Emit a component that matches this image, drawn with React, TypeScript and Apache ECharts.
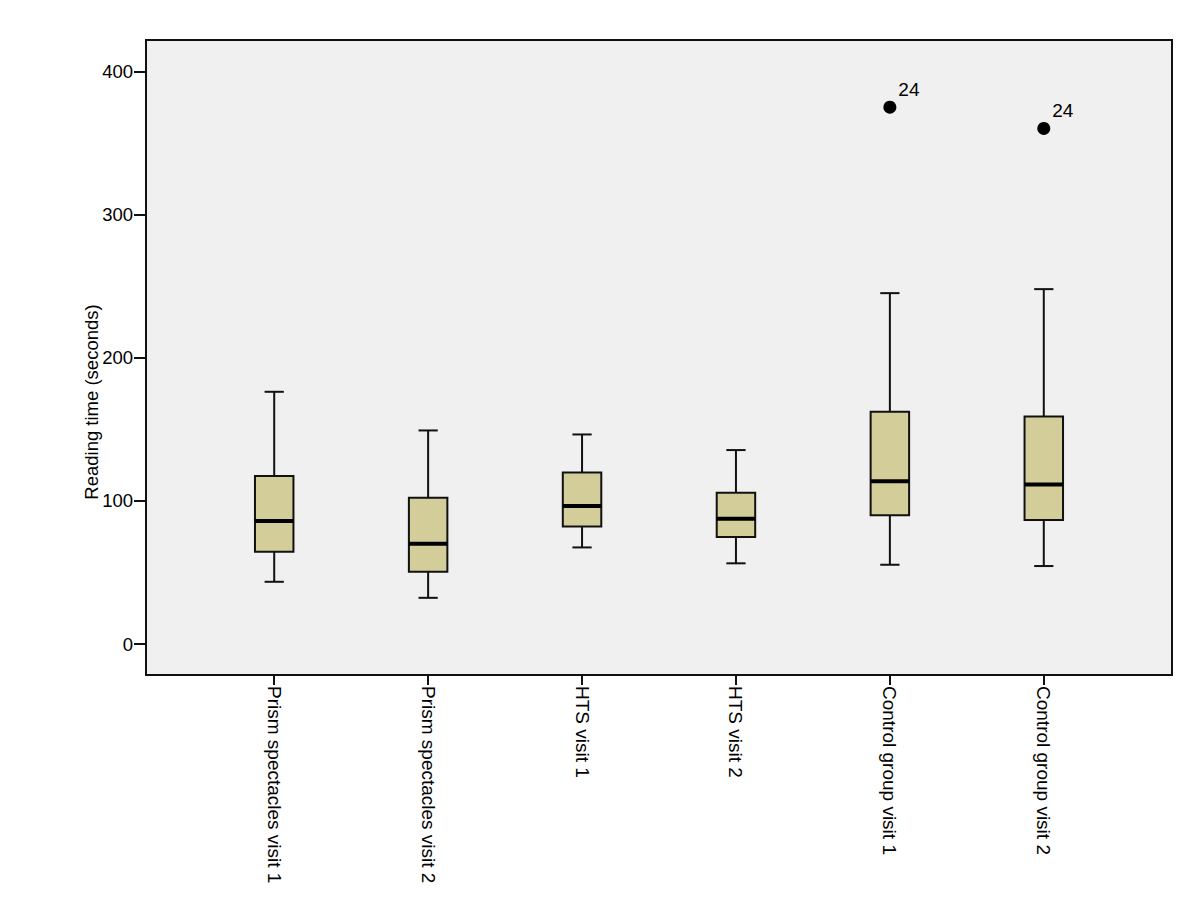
import React, { useEffect, useRef } from "react";
import * as echarts from "echarts";

const categories = [
  "Prism spectacles visit 1",
  "Prism spectacles visit 2",
  "HTS visit 1",
  "HTS visit 2",
  "Control group visit 1",
  "Control group visit 2",
];
// [lower whisker, Q1, median, Q3, upper whisker]
const boxStats = [
  [43.5, 64.5, 85.9, 117.3, 176.2],
  [32.3, 50.5, 70.0, 102.2, 149.2],
  [67.5, 82.2, 96.4, 119.9, 146.4],
  [56.4, 74.7, 87.5, 105.7, 135.5],
  [55.4, 89.9, 113.8, 162.2, 245.1],
  [54.5, 86.6, 111.5, 158.9, 247.9],
];
// [category index, value, case label]
const outliers = [
  [4, 375.0, "24"],
  [5, 360.1, "24"],
];
const yTicks = [0, 100, 200, 300, 400];
const xTicks = [0, 1, 2, 3, 4, 5];

export default function App() {
  const ref = useRef<HTMLDivElement>(null);
  useEffect(() => {
    if (!ref.current) return;
    const chart = echarts.init(ref.current, null, { renderer: "svg" });
    const font = "Liberation Sans, Arial, sans-serif";
    const stroke = "#111";
    const boxData = boxStats.map((s, i) => [i, ...s]);
    chart.setOption({
      animation: false,
      backgroundColor: "#ffffff",
      grid: {
        left: 146,
        top: 40,
        width: 1026,
        height: 635,
        show: true,
        backgroundColor: "#f0f0f0",
        borderColor: "#111",
        borderWidth: 2,
      },
      xAxis: {
        type: "value",
        min: -0.833,
        max: 5.833,
        splitLine: { show: false },
        axisLine: { show: true, onZero: false, lineStyle: { color: "#111", width: 2 } },
        axisTick: {
          show: true,
          customValues: xTicks,
          length: 10,
          lineStyle: { color: "#111", width: 2 },
        },
        axisLabel: {
          customValues: xTicks,
          formatter: (v: number) => categories[Math.round(v)] ?? "",
          rotate: -90,
          margin: 11,
          fontSize: 19,
          color: "#000",
          fontFamily: font,
        },
      },
      yAxis: {
        type: "value",
        min: -21.6,
        max: 421.9,
        splitLine: { show: false },
        axisLine: { show: true, onZero: false, lineStyle: { color: "#111", width: 2 } },
        axisTick: {
          show: true,
          customValues: yTicks,
          length: 12,
          lineStyle: { color: "#111", width: 2 },
        },
        axisLabel: {
          customValues: yTicks,
          margin: 13,
          fontSize: 18.5,
          color: "#000",
          fontFamily: font,
        },
      },
      graphic: [
        {
          type: "text",
          x: 91,
          y: 402,
          rotation: Math.PI / 2,
          style: {
            text: "Reading time (seconds)",
            fontSize: 18.5,
            fontFamily: font,
            fill: "#000",
            textAlign: "center",
            textVerticalAlign: "middle",
          },
        },
      ],
      series: [
        {
          type: "custom",
          data: boxData,
          encode: { x: 0, y: [1, 2, 3, 4, 5] },
          renderItem: (params: any, api: any) => {
            const x = api.value(0);
            const lo = api.coord([x, api.value(1)]);
            const q1 = api.coord([x, api.value(2)]);
            const med = api.coord([x, api.value(3)]);
            const q3 = api.coord([x, api.value(4)]);
            const hi = api.coord([x, api.value(5)]);
            const bw = api.size([1, 0])[0] * 0.25;
            const cw = bw / 2;
            const cx = lo[0];
            const ls = { stroke, lineWidth: 2 };
            return {
              type: "group",
              children: [
                { type: "line", shape: { x1: cx, y1: q3[1], x2: cx, y2: hi[1] }, style: ls },
                { type: "line", shape: { x1: cx, y1: q1[1], x2: cx, y2: lo[1] }, style: ls },
                { type: "line", shape: { x1: cx - cw / 2, y1: hi[1], x2: cx + cw / 2, y2: hi[1] }, style: ls },
                { type: "line", shape: { x1: cx - cw / 2, y1: lo[1], x2: cx + cw / 2, y2: lo[1] }, style: ls },
                {
                  type: "rect",
                  shape: { x: cx - bw / 2, y: q3[1], width: bw, height: q1[1] - q3[1] },
                  style: { fill: "#d3ce99", stroke, lineWidth: 2 },
                },
                {
                  type: "line",
                  shape: { x1: cx - bw / 2, y1: med[1], x2: cx + bw / 2, y2: med[1] },
                  style: { stroke: "#000", lineWidth: 4 },
                },
              ],
            };
          },
        },
        {
          type: "scatter",
          data: outliers.map((o) => ({ value: [o[0], o[1]], name: o[2] })),
          symbol: "circle",
          symbolSize: 13,
          itemStyle: { color: "#000", opacity: 1 },
          label: {
            show: true,
            position: "right",
            distance: 5,
            offset: [-3, -18],
            formatter: (p: any) => p.name,
            fontSize: 19,
            color: "#000",
            fontFamily: font,
          },
        },
      ],
    });
    return () => chart.dispose();
  }, []);
  return (
    <div
      ref={ref}
      style={{ position: "fixed", left: 0, top: 0, width: 1200, height: 922 }}
    />
  );
}
